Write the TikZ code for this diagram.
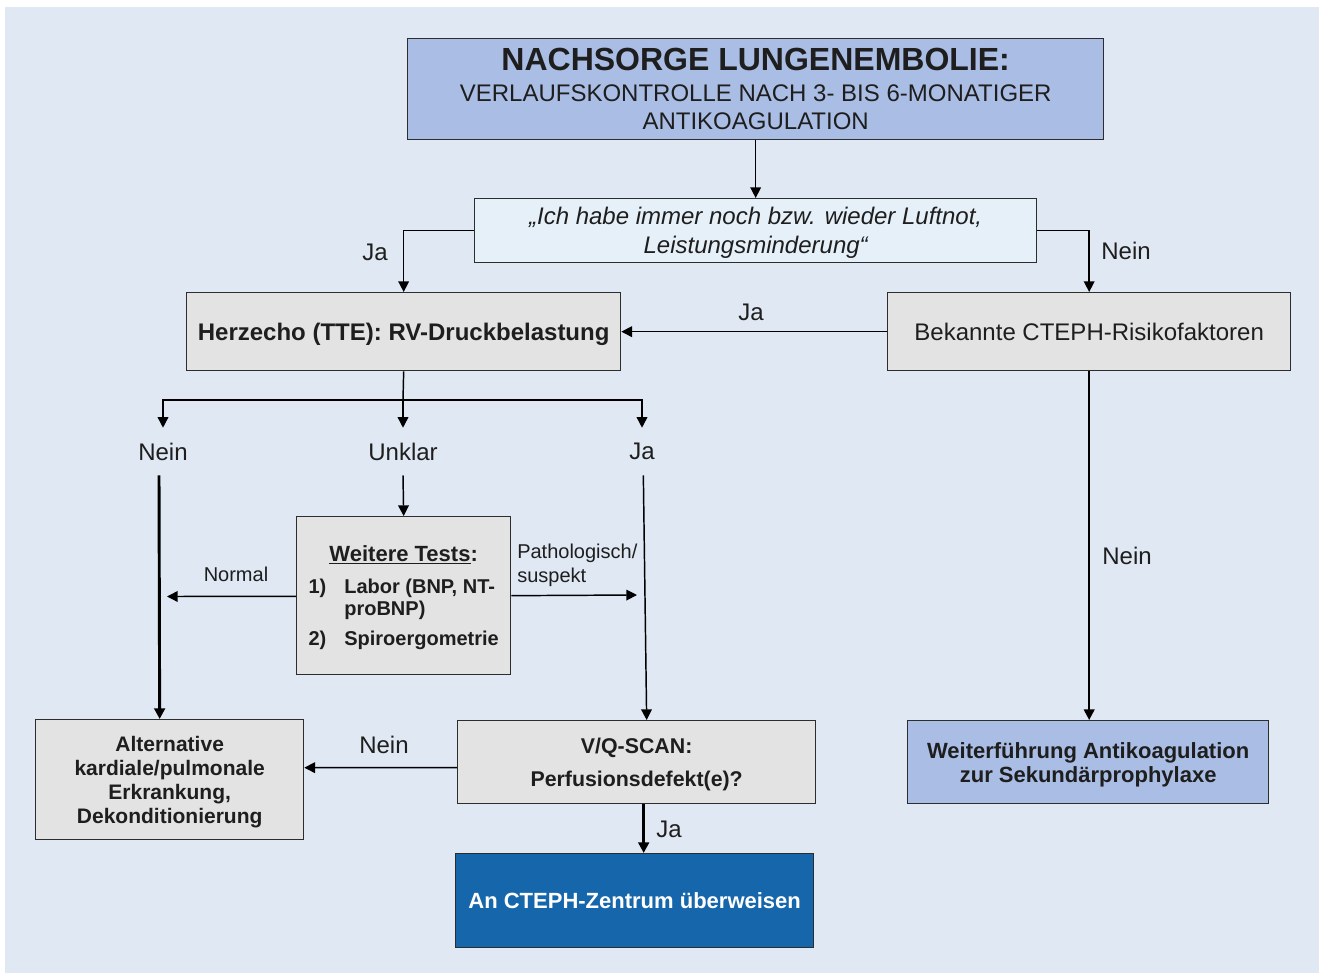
\documentclass[tikz,border=0pt]{standalone}
\usepackage{fontspec}
\setmainfont{Liberation Sans}
\usetikzlibrary{arrows.meta}
\definecolor{bgblue}{RGB}{223,232,243}
\definecolor{lav}{RGB}{170,189,229}
\definecolor{qfill}{RGB}{230,240,248}
\definecolor{boxgray}{RGB}{227,227,227}
\definecolor{ctephblue}{RGB}{22,102,172}
\definecolor{txt}{RGB}{30,30,30}
\definecolor{boxline}{RGB}{45,45,45}
\begin{document}
\begin{tikzpicture}[x=0.75pt,y=-0.75pt,
  box/.style={draw=boxline,line width=1pt,inner sep=0pt,anchor=north west,align=center,text=txt,text depth=0pt},
  graybox/.style={box,fill=boxgray},
  arr/.style={line width=1.1pt,draw=black,-{Triangle[length=8pt,width=8pt]}},
  thickarr/.style={line width=2.2pt,draw=black,-{Triangle[length=8pt,width=8pt]}},
  plain/.style={line width=1.1pt,draw=black},
  lbl/.style={font=\fontsize{18}{21}\selectfont,text=txt,inner sep=0pt},
  small/.style={font=\fontsize{15}{18}\selectfont,text=txt,inner sep=0pt}
]
\useasboundingbox (0,0) rectangle (1319,973);
\fill[bgblue] (5,7) rectangle (1319,973);

% boxes
\node[box,fill=lav,minimum width=522pt,minimum height=75.75pt,text depth=-3pt,font=\fontsize{18}{21}\selectfont] (title) at (407,38)
  {{\fontsize{24}{28}\selectfont\bfseries NACHSORGE LUNGENEMBOLIE:}\\[2.25pt]
   VERLAUFSKONTROLLE NACH 3- BIS 6-MONATIGER\\ ANTIKOAGULATION};
\node[box,fill=qfill,minimum width=421.5pt,minimum height=48pt,font=\fontsize{18}{21.75}\selectfont\itshape] (q) at (474,198)
  {„Ich habe immer noch bzw. wieder Luftnot,\\ Leistungsminderung“};
\node[graybox,minimum width=325.5pt,minimum height=58.5pt,font=\fontsize{18}{21}\selectfont\bfseries] (herz) at (186,292)
  {Herzecho (TTE): RV-Druckbelastung};
\node[graybox,minimum width=302.25pt,minimum height=58.5pt,font=\fontsize{18}{21}\selectfont] (bek) at (887,292)
  {Bekannte CTEPH-Risikofaktoren};
\node[graybox,minimum width=160.5pt,minimum height=118.5pt,font=\fontsize{15}{16.5}\selectfont\bfseries] (tests) at (296,516)
  {\begin{tabular}[b]{@{}l@{\hspace{13.5pt}}l@{}}
   \multicolumn{2}{c}{\fontsize{16.5}{18}\selectfont\underline{Weitere Tests}:}\\[7.5pt]
   1) & Labor (BNP, NT-\\
      & proBNP)\\[6pt]
   2) & Spiroergometrie
   \end{tabular}};
\node[graybox,minimum width=201pt,minimum height=90pt,font=\fontsize{15.75}{18}\selectfont\bfseries] (alt) at (35,719)
  {Alternative\\ kardiale/pulmonale\\ Erkrankung,\\ Dekonditionierung};
\node[graybox,minimum width=268.5pt,minimum height=62.25pt,font=\fontsize{16}{24.75}\selectfont\bfseries] (vq) at (457,720)
  {V/Q-SCAN:\\ Perfusionsdefekt(e)?};
\node[box,fill=ctephblue,text=white,minimum width=268.5pt,minimum height=70.5pt,font=\fontsize{16.5}{20}\selectfont\bfseries] (cteph) at (455,853)
  {An CTEPH-Zentrum überweisen};
\node[box,fill=lav,minimum width=270.75pt,minimum height=62.25pt,font=\fontsize{16.5}{18}\selectfont\bfseries] (weiter) at (907,720)
  {Weiterführung Antikoagulation\\ zur Sekundärprophylaxe};

% branch labels
\node[lbl,minimum height=35.25pt] (nein1) at (163,451.5) {Nein};
\node[lbl,minimum height=35.25pt] (unklar) at (403,451.5) {Unklar};
\node[lbl,minimum height=35.25pt] (ja1) at (642,451.5) {Ja};

% edge labels
\node[lbl] (lqja) at (375,252) {Ja};
\node[lbl] (lqnein) at (1126,251) {Nein};
\node[lbl] (lbekja) at (751,312) {Ja};
\node[lbl] (lbeknein) at (1127,556) {Nein};
\node[lbl] (lvqnein) at (384,745) {Nein};
\node[lbl] (lvqja) at (669,829) {Ja};
\node[small] (lnormal) at (236,574) {Normal};
\node[small,anchor=west,align=left] (lpath) at (517,565) {Pathologisch/\\suspekt};

% connectors
\draw[arr] (title.south) -- (q.north);
\draw[arr] (q.west) -| (herz.north);
\draw[arr] (q.east) -| (bek.north);
\draw[arr] (bek.west) -- (herz.east);
\coordinate (split) at (403,400);
\draw[plain] (herz.south) -- (split);
\draw[arr] (split) -| (nein1.north);
\draw[arr] (split) -- (unklar.north);
\draw[arr] (split) -| (ja1.north);
\draw[arr] (unklar.south) -- (tests.north);
\coordinate (normend) at (167,596.5);
\coordinate (pathend) at (637,595);
\draw[arr] ([yshift=-0.5pt]tests.west) -- (normend);
\draw[arr] (tests.east) -- (pathend);
\draw[thickarr] ([xshift=-3pt]nein1.south) -- ([xshift=-7.5pt]alt.north);
\draw[arr] ([xshift=1pt]ja1.south) -- ([xshift=7.5pt]vq.north);
\draw[arr] ([yshift=-4.1pt]vq.west) -- ([yshift=9pt]alt.east);
\coordinate (vqs) at ([xshift=5.25pt]vq.south);
\draw[thickarr] (vqs) -- (vqs |- cteph.north);
\draw[line width=1.6pt,-{Triangle[length=8pt,width=8pt]}] (bek.south) -- (bek.south |- weiter.north);
\end{tikzpicture}
\end{document}
